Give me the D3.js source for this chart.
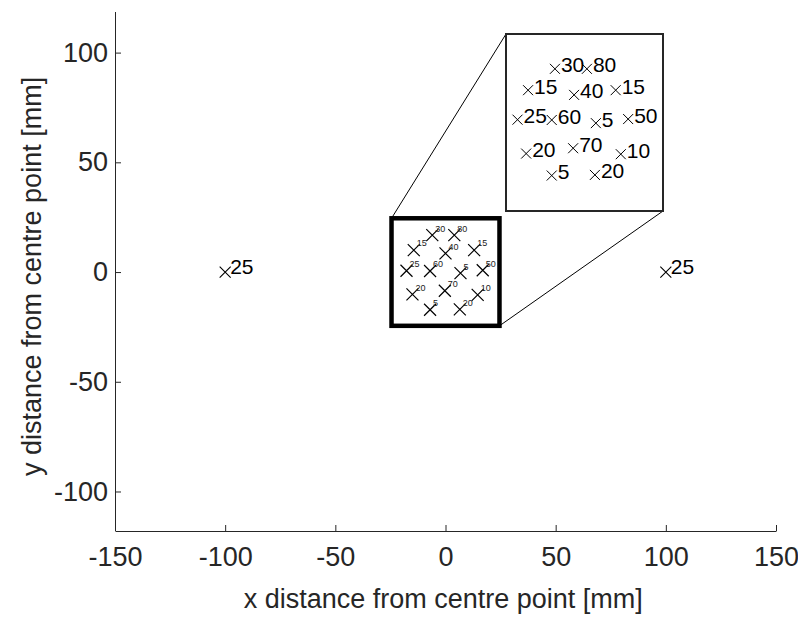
<!DOCTYPE html>
<html>
<head>
<meta charset="utf-8">
<script src="https://cdn.jsdelivr.net/npm/d3@7"></script>
<style>
  html, body { margin: 0; padding: 0; background: #fff; }
  svg { display: block; font-family: "Liberation Sans", Arial, Helvetica, sans-serif; }
</style>
</head>
<body>
<svg id="chart" width="798" height="617"></svg>
<script>
// Measurement positions inside the central zone (mm) and the value recorded at each
const pointX = [-6.0, 4.0, -14.4, 0.0, 13.0, -17.7, -7.0, 6.8, 16.9, -15.0, -0.3, 14.6, -7.0, 6.5];
const pointY = [16.8, 16.8, 10.0, 8.5, 10.0, 0.6, 0.5, -0.5, 0.8, -10.2, -8.5, -10.4, -17.2, -17.0];
const pointLabels = ["30", "80", "15", "40", "15", "25", "60", "5", "50", "20", "70", "10", "5", "20"];

// Outlying positions (mm) and their values
const outerX = [-100, 100];
const outerY = [0, 0];
const outerLabels = ["25", "25"];

// Axis ticks and limits
const xTicks = [-150, -100, -50, 0, 50, 100, 150];
const yTicks = [-100, -50, 0, 50, 100];
const xDomain = [-150, 150];
const yDomain = [-118, 118.5];

// Zoomed region and the limits of the magnified view
const zoomBox = [-24.5, 24.5];
const insetXDomain = [-21.3, 27.8];
const insetYDomain = [-28.5, 27.9];

const svg = d3.select("#chart");
const ink = "#262626";

const plot = { left: 115, right: 776, top: 12, bottom: 531 };
const x = d3.scaleLinear().domain(xDomain).range([plot.left, plot.right]);
const y = d3.scaleLinear().domain(yDomain).range([plot.bottom, plot.top]);

// Plain hyphen for negative tick values
const fmt = v => String(v);

// Axes (ticks point inward, no box)
const xAxis = d3.axisBottom(x).tickValues(xTicks).tickFormat(fmt).tickSizeInner(-6).tickSizeOuter(0).tickPadding(16);
const yAxis = d3.axisLeft(y).tickValues(yTicks).tickFormat(fmt).tickSizeInner(-6).tickSizeOuter(0).tickPadding(7);

const gx = svg.append("g").attr("transform", `translate(0,${plot.bottom})`).call(xAxis);
const gy = svg.append("g").attr("transform", `translate(${plot.left},0)`).call(yAxis);
gy.select(".domain").attr("d", `M0.5,${plot.top}V${plot.bottom}`);
[gx, gy].forEach(g => {
  g.select(".domain").attr("stroke", ink).attr("stroke-width", 1);
  g.selectAll(".tick line").attr("stroke", ink);
  g.selectAll(".tick text").attr("fill", ink).attr("font-size", 27).attr("font-family", null);
});

svg.append("text")
  .attr("x", x(-1)).attr("y", 608)
  .attr("text-anchor", "middle").attr("fill", ink).attr("font-size", 27)
  .text("x distance from centre point [mm]");
svg.append("text")
  .attr("transform", `translate(41,${y(-2)}) rotate(-90)`)
  .attr("text-anchor", "middle").attr("fill", ink).attr("font-size", 27)
  .text("y distance from centre point [mm]");

// Cross marker path of half-size h
const cross = h => `M${-h},${-h}L${h},${h}M${-h},${h}L${h},${-h}`;

function drawPoints(g, sx, sy, xs, ys, labels, opt) {
  const pts = g.selectAll(null).data(xs.map((v, i) => ({ x: v, y: ys[i], label: labels[i] }))).enter();
  pts.append("path")
    .attr("transform", d => `translate(${sx(d.x)},${sy(d.y)})`)
    .attr("d", cross(opt.size))
    .attr("stroke", "#000").attr("stroke-width", opt.width).attr("fill", "none");
  pts.append("text")
    .attr("x", d => sx(d.x) + opt.dx)
    .attr("y", d => sy(d.y) + opt.dy)
    .attr("font-size", opt.font).attr("fill", opt.color || "#000")
    .attr("dominant-baseline", "middle")
    .text(d => d.label);
}

// Outer points
drawPoints(svg.append("g"), x, y, outerX, outerY, outerLabels, { size: 5.5, width: 1.1, dx: 5, dy: -4, font: 21 });

// Points in the central zone
drawPoints(svg.append("g"), x, y, pointX, pointY, pointLabels, { size: 6, width: 1.2, dx: 3, dy: -6, font: 9, color: "#222" });

// Outline of the zoomed region
const bx0 = x(zoomBox[0]), bx1 = x(zoomBox[1]);
const by0 = y(zoomBox[1]), by1 = y(zoomBox[0]);
svg.append("rect")
  .attr("x", bx0).attr("y", by0).attr("width", bx1 - bx0).attr("height", by1 - by0)
  .attr("fill", "none").attr("stroke", "#000").attr("stroke-width", 4.5);

// Magnified view
const inset = { left: 506, right: 663, top: 34, bottom: 211 };
const ix = d3.scaleLinear().domain(insetXDomain).range([inset.left, inset.right]);
const iy = d3.scaleLinear().domain(insetYDomain).range([inset.bottom, inset.top]);

// Leader lines from the zoomed region to the magnified view
svg.append("line")
  .attr("x1", bx0).attr("y1", by0).attr("x2", inset.left).attr("y2", inset.top)
  .attr("stroke", "#000").attr("stroke-width", 1);
svg.append("line")
  .attr("x1", bx1).attr("y1", by1).attr("x2", inset.right).attr("y2", inset.bottom)
  .attr("stroke", "#000").attr("stroke-width", 1);

svg.append("rect")
  .attr("x", inset.left).attr("y", inset.top)
  .attr("width", inset.right - inset.left).attr("height", inset.bottom - inset.top)
  .attr("fill", "#fff").attr("stroke", ink).attr("stroke-width", 2);

drawPoints(svg.append("g"), ix, iy, pointX, pointY, pointLabels, { size: 5, width: 1, dx: 6, dy: -2, font: 21 });
</script>
</body>
</html>
